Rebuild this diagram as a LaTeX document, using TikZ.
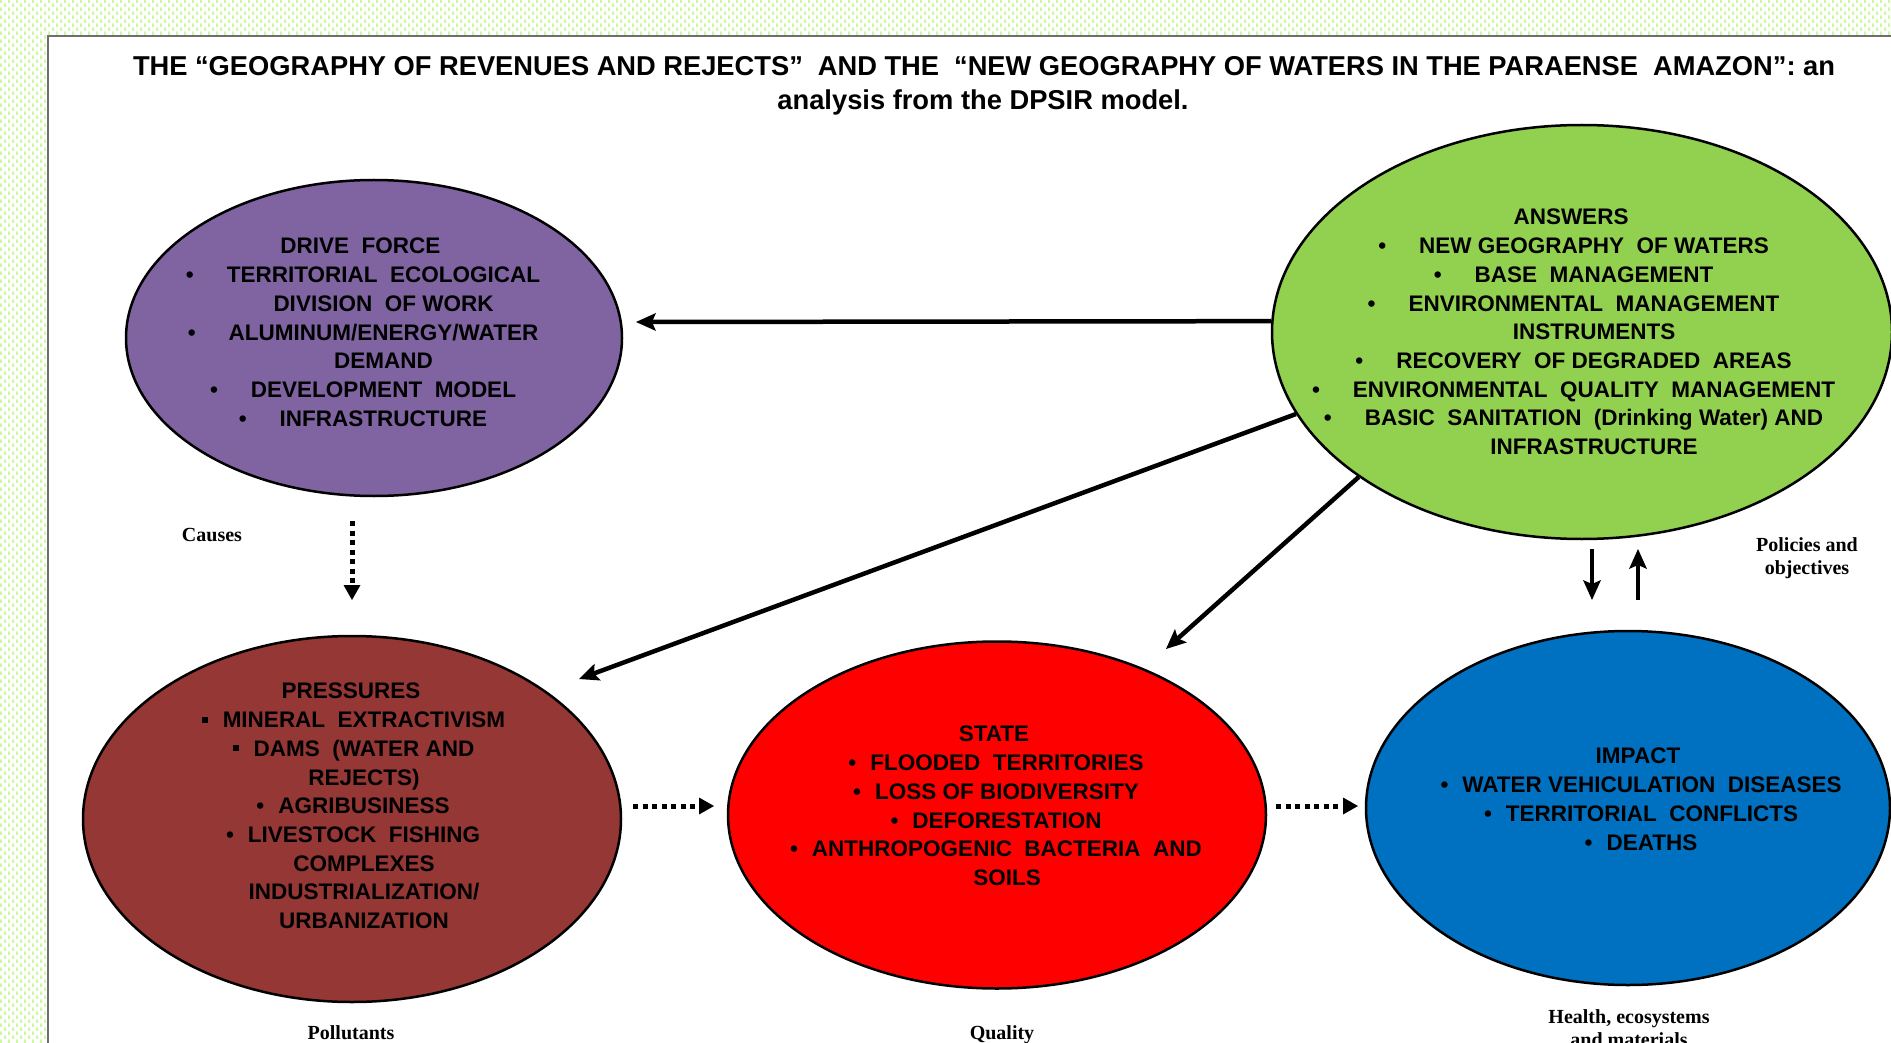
\documentclass[tikz,border=0pt]{standalone}
\usepackage{fontspec}
\setmainfont{Liberation Serif}
\newfontfamily\sansfam{Liberation Sans}
\usetikzlibrary{shapes.geometric,arrows.meta,patterns}
\definecolor{dotgreen}{RGB}{205,248,160}
\definecolor{framegray}{RGB}{110,110,110}
\definecolor{cpurple}{HTML}{8064A2}
\definecolor{cgreen}{HTML}{92D050}
\definecolor{cbrown}{HTML}{953735}
\definecolor{cred}{HTML}{FF0000}
\definecolor{cblue}{HTML}{0070C0}
\pgfdeclarepatternformonly{gdots}{\pgfqpoint{-1pt}{-1pt}}{\pgfqpoint{9pt}{9pt}}{\pgfqpoint{8pt}{8pt}}{%
  \pgfpathrectangle{\pgfqpoint{0pt}{0pt}}{\pgfqpoint{2pt}{3.5pt}}%
  \pgfpathrectangle{\pgfqpoint{4pt}{4pt}}{\pgfqpoint{2pt}{3.5pt}}%
  \pgfusepath{fill}}
\newcommand{\bulwide}{\llap{•\hspace{33pt}}}
\newcommand{\bulnarrow}{\llap{•\hspace{14pt}}}
\newcommand{\bulsq}{\llap{\rule[5pt]{6pt}{6pt}\hspace{15pt}}}
\tikzset{
  oval/.style={ellipse, draw=black, line width=2.5pt, inner sep=0pt},
  otext/.style={font={\sansfam\bfseries\fontsize{22.5pt}{28.7pt}\selectfont}, align=center, inner sep=0pt, anchor=north},
  titlef/.style={font={\sansfam\bfseries\fontsize{27.3pt}{32pt}\selectfont}, inner sep=0pt},
  lab/.style={font={\bfseries\fontsize{20pt}{23.5pt}\selectfont}, inner sep=0pt},
  solidarr/.style={line width=4.5pt, -{Stealth[length=20pt,width=18pt,inset=4pt,line width=0pt]}},
  dotarr/.style={line width=5pt, dash pattern=on 5pt off 4.5pt, -{Triangle[length=15pt,width=17pt,line width=0pt]}},
}
\begin{document}
\begin{tikzpicture}[x=1pt,y=-1pt]
\useasboundingbox (0,0) rectangle (1891,1043);
\fill[white] (0,0) rectangle (1891,1043);
\fill[pattern=gdots, pattern color=dotgreen] (0,0) rectangle (1891,1043);
\filldraw[fill=white, draw=framegray, line width=2pt] (48,36) rectangle (1930,1080);

% title
\node[titlef, anchor=base] (t1) at (984,76) {\makebox[1702pt][s]{THE “GEOGRAPHY OF REVENUES AND REJECTS”\ \ AND THE\ \ “NEW GEOGRAPHY OF WATERS IN THE PARAENSE\ \ AMAZON”: an}};
\node[titlef, anchor=base] (t2) at (983,110) {analysis from the DPSIR model.};

% ellipses
\node[oval, fill=cpurple, minimum width=496pt, minimum height=316pt] (drv) at (374,338) {};
\node[oval, fill=cgreen, minimum width=620pt, minimum height=414pt] (ans) at (1582,332) {};
\node[oval, fill=cbrown, minimum width=538pt, minimum height=366pt] (prs) at (352,819) {};
\node[oval, fill=cred, minimum width=538pt, minimum height=347pt] (sta) at (997,815) {};
\node[oval, fill=cblue, minimum width=524pt, minimum height=354pt] (imp) at (1628,808) {};

% ellipse texts
\node[otext] (drvT) at (383.5,238) {DRIVE\ \ FORCE\kern46pt\\
\bulwide TERRITORIAL\ \ ECOLOGICAL\\
DIVISION\ \ OF WORK\\
\bulwide ALUMINUM/ENERGY/WATER\\
DEMAND\\
\bulwide DEVELOPMENT\ \ MODEL\\
\bulwide INFRASTRUCTURE};

\node[otext] (ansT) at (1594,209) {ANSWERS\kern46pt\\
\bulwide NEW GEOGRAPHY\ \ OF WATERS\\
\bulwide BASE\ \ MANAGEMENT\\
\bulwide ENVIRONMENTAL\ \ MANAGEMENT\\
INSTRUMENTS\\
\bulwide RECOVERY\ \ OF DEGRADED\ \ AREAS\\
\bulwide ENVIRONMENTAL\ \ QUALITY\ \ MANAGEMENT\\
\bulwide BASIC\ \ SANITATION\ \ (Drinking Water) AND\\
INFRASTRUCTURE};

\node[otext] (prsT) at (364,683) {PRESSURES\kern26pt\\
\bulsq MINERAL\ \ EXTRACTIVISM\\
\bulsq DAMS\ \ (WATER AND\\
REJECTS)\\
\bulnarrow AGRIBUSINESS\\
\bulnarrow LIVESTOCK\ \ FISHING\\
COMPLEXES\\
INDUSTRIALIZATION/\\
URBANIZATION};

\node[otext] (staT) at (1007,726) {STATE\kern26pt\\
\bulnarrow FLOODED\ \ TERRITORIES\\
\bulnarrow LOSS OF BIODIVERSITY\\
\bulnarrow DEFORESTATION\\
\bulnarrow ANTHROPOGENIC\ \ BACTERIA\ \ AND\\
SOILS};

\node[otext] (impT) at (1652,748) {IMPACT\kern28pt\\
\bulnarrow WATER VEHICULATION\ \ DISEASES\\
\bulnarrow TERRITORIAL\ \ CONFLICTS\\
\bulnarrow DEATHS};

% labels
\node[lab, anchor=base] (causes) at (212,541) {Causes};
\node[lab, anchor=north, align=center] (pol) at (1807,537) {Policies and\\objectives};
\node[lab, anchor=base] (pollut) at (351,1039) {Pollutants};
\node[lab, anchor=base] (qual) at (1002,1039) {Quality};
\node[lab, anchor=north, align=center] (health) at (1629,1009) {Health, ecosystems\\and materials};

% free arrow ends
\coordinate (tipD) at (636,322);
\coordinate (tipP) at (579,679);
\coordinate (tipS) at (1166,649);
\coordinate (dA) at (1592,549);
\coordinate (dB) at (1592,600);
\coordinate (uA) at (1638,600);
\coordinate (uB) at (1638,549);
\coordinate (cA) at (352,521);
\coordinate (cB) at (352,600);
\coordinate (pA) at (633,806);
\coordinate (pB) at (714,806);
\coordinate (sA) at (1276,806);
\coordinate (sB) at (1358,806);

% arrows
\draw[solidarr] (ans.178) -- (tipD);
\draw[solidarr] (ans.196) -- (tipP);
\draw[solidarr] (ans.213) -- (tipS);
\draw[solidarr] (dA) -- (dB);
\draw[solidarr] (uA) -- (uB);
\draw[dotarr] (cA) -- (cB);
\draw[dotarr] (pA) -- (pB);
\draw[dotarr] (sA) -- (sB);
\end{tikzpicture}
\end{document}
